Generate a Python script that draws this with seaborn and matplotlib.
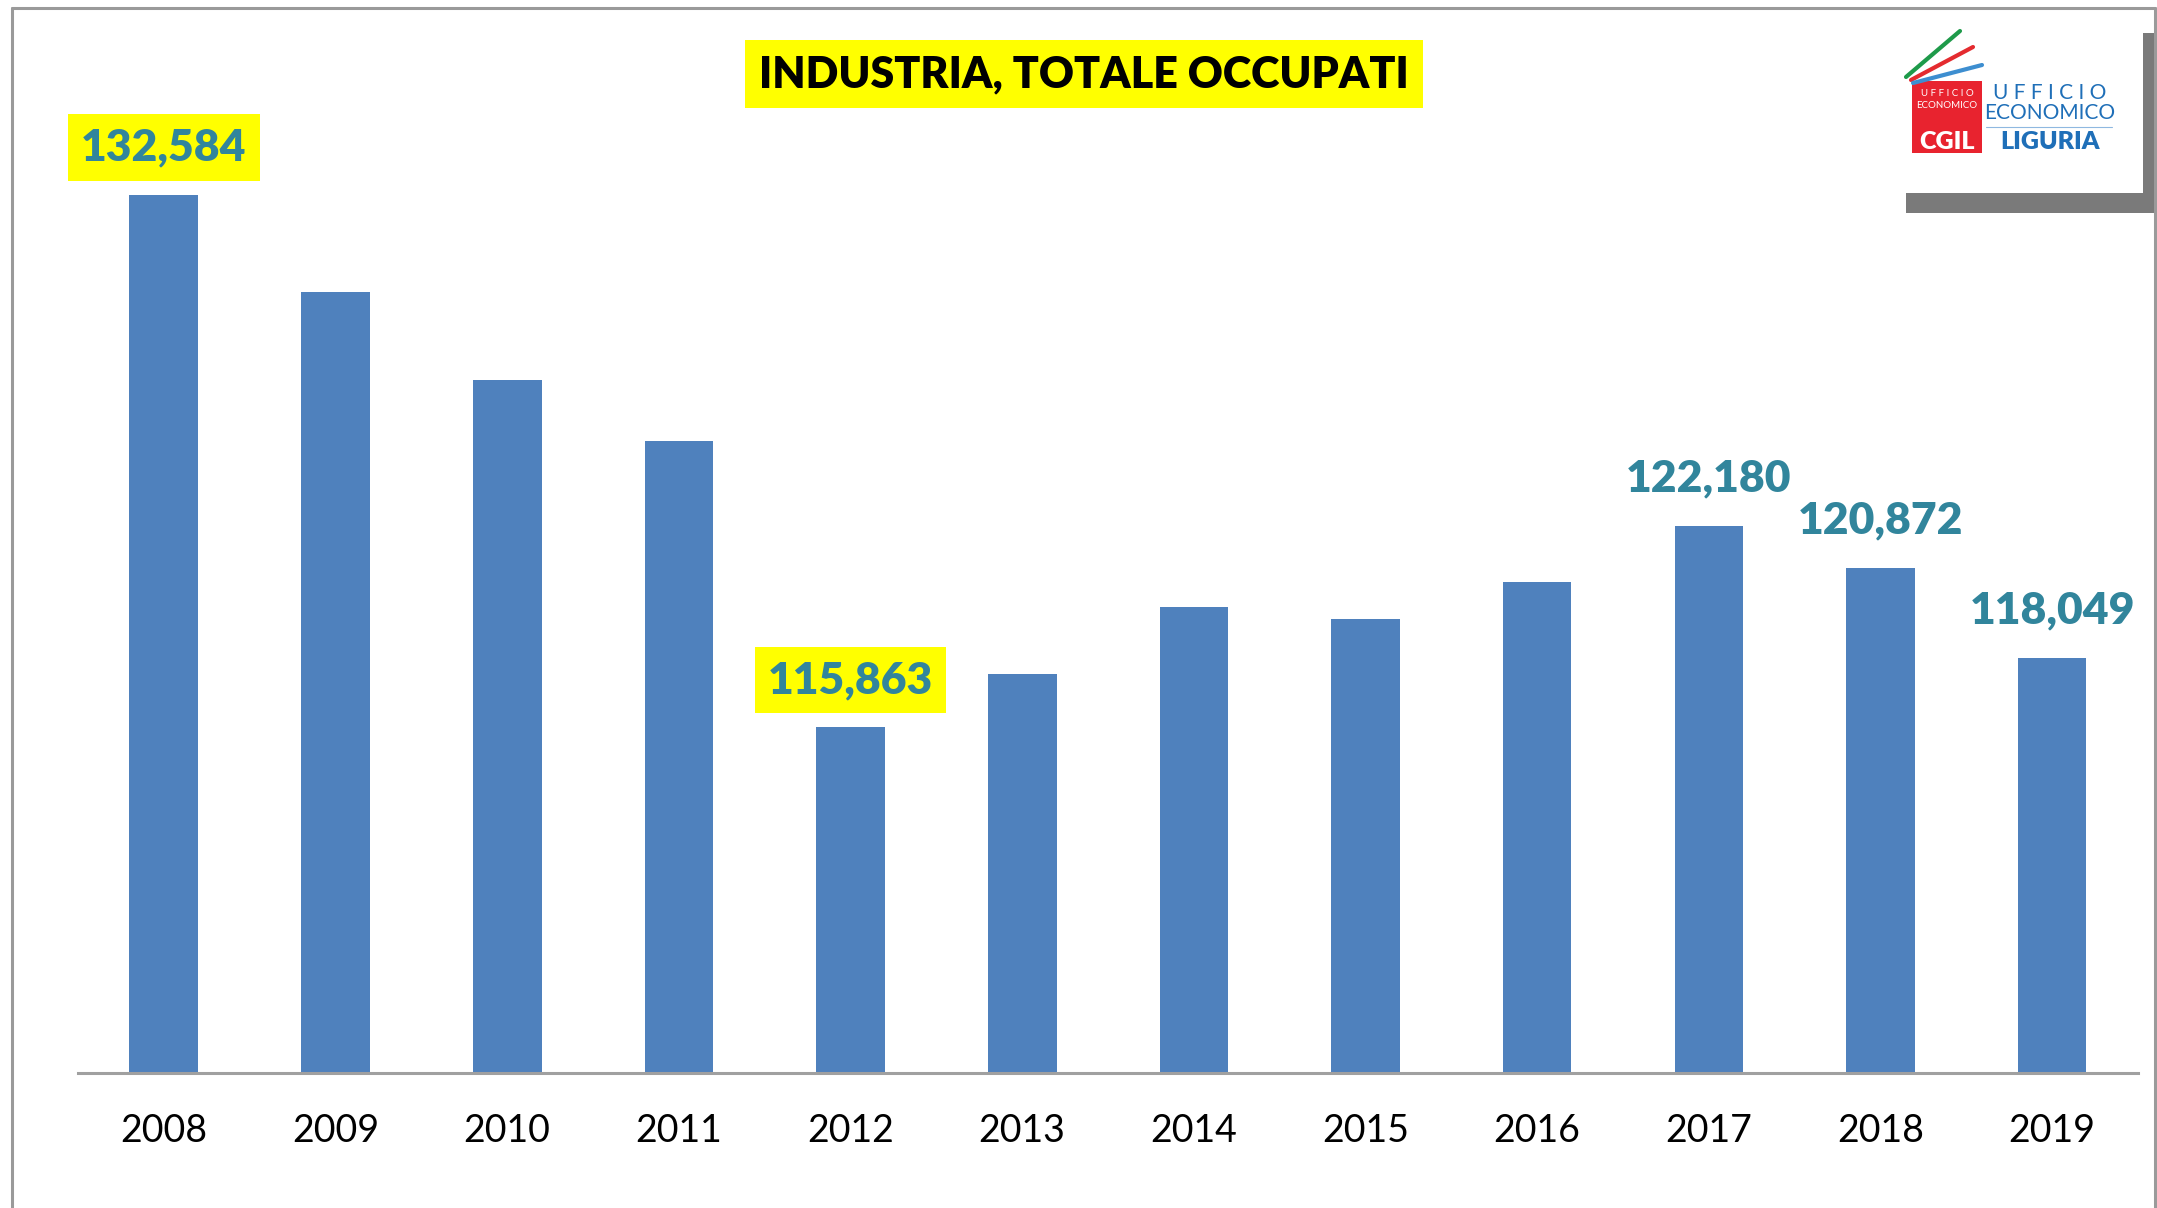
import matplotlib
matplotlib.use("Agg")
import matplotlib.pyplot as plt
import seaborn as sns
import pandas as pd
from matplotlib.patches import Rectangle
from matplotlib.lines import Line2D

# ---------------- data ----------------
years = ["2008", "2009", "2010", "2011", "2012", "2013",
         "2014", "2015", "2016", "2017", "2018", "2019"]
occupati = [132584, 129520, 126760, 124860, 115863, 117530,
            119645, 119260, 120420, 122180, 120872, 118049]
labelled_years = ["2008", "2012", "2017", "2018", "2019"]
highlighted_years = ["2008", "2012"]
title_text = "INDUSTRIA, TOTALE OCCUPATI"

df = pd.DataFrame({"anno": years, "occupati": occupati})

# ---------------- style ----------------
sns.set_theme(style="white")
plt.rcParams["font.family"] = ["Lato", "DejaVu Sans"]

W, H = 2157, 1208
fig = plt.figure(figsize=(W / 100, H / 100), dpi=100)
fig.patch.set_facecolor("white")

def fx(x):
    return x / W

def fy(y):
    return 1 - y / H

ax = fig.add_axes([fx(78), fy(1073), fx(2138) - fx(78), (1073 - 30) / H])

bar_color = "#4F81BD"
label_color = "#31859C"

sns.barplot(data=df, x="anno", y="occupati", color=bar_color, width=0.4,
            saturation=1, ax=ax, edgecolor=bar_color, linewidth=0)

ax.set_ylim(105000, 137760)
ax.set_xlim(-0.5, len(years) - 0.5)
ax.set_xlabel("")
ax.set_ylabel("")
ax.set_yticks([])
for s in ["left", "top", "right"]:
    ax.spines[s].set_visible(False)
ax.spines["bottom"].set_color("#A0A0A0")
ax.spines["bottom"].set_linewidth(2.2)
ax.tick_params(axis="x", length=0, pad=29, labelsize=27, labelcolor="black")
ax.set_facecolor("white")

# value labels
for i, (yr, v) in enumerate(zip(years, occupati)):
    if yr not in labelled_years:
        continue
    kw = {}
    if yr in highlighted_years:
        kw["bbox"] = dict(boxstyle="square,pad=0.3", facecolor="#FFFF00", edgecolor="none")
    ax.annotate(f"{v:,}", xy=(i, v), xytext=(0, 34), textcoords="offset points",
                ha="center", va="center", fontsize=32, fontweight="heavy",
                color=label_color, annotation_clip=False, **kw)

# title
fig.text(fx(1084), fy(74), title_text, ha="center", va="center",
         fontsize=31, fontweight="heavy", color="black",
         bbox=dict(boxstyle="square,pad=0.33", facecolor="#FFFF00", edgecolor="none"))

# outer frame
frame_col = "#9A9A9A"
fig.add_artist(Line2D([fx(12), fx(12)], [fy(8), 0], color=frame_col, lw=2.2, transform=fig.transFigure))
fig.add_artist(Line2D([fx(12), fx(2155)], [fy(8), fy(8)], color=frame_col, lw=2.2, transform=fig.transFigure))
fig.add_artist(Line2D([fx(2155), fx(2155)], [fy(8), 0], color=frame_col, lw=2.2, transform=fig.transFigure))

# logo: shadow
shadow = "#7A7A7A"
fig.add_artist(Rectangle((fx(1906), fy(213)), fx(2157) - fx(1906), (213 - 193) / H,
                         transform=fig.transFigure, facecolor=shadow, edgecolor="none"))
fig.add_artist(Rectangle((fx(2143), fy(213)), fx(2157) - fx(2143), (213 - 33) / H,
                         transform=fig.transFigure, facecolor=shadow, edgecolor="none"))
# logo: coloured strokes
for (x0, y0, x1, y1, c) in [(1906, 77, 1960, 31, "#1E9A4A"),
                            (1911, 80, 1973, 47, "#E42B2F"),
                            (1913, 83, 1982, 65, "#3D8ED0")]:
    fig.add_artist(Line2D([fx(x0), fx(x1)], [fy(y0), fy(y1)], color=c, lw=3,
                          solid_capstyle="round", transform=fig.transFigure))
# logo: red square
fig.add_artist(Rectangle((fx(1912), fy(153)), fx(1982) - fx(1912), (153 - 81) / H,
                         transform=fig.transFigure, facecolor="#E8232F", edgecolor="none"))
fig.text(fx(1947), fy(94), "U F F I C I O", ha="center", va="center", fontsize=7, color="white")
fig.text(fx(1947), fy(105), "ECONOMICO", ha="center", va="center", fontsize=7, color="white")
fig.text(fx(1947), fy(142), "CGIL", ha="center", va="center", fontsize=18, fontweight="heavy", color="white")
# logo: blue text
blue = "#1F6FB8"
fig.text(fx(2050), fy(93), "U F F I C I O", ha="center", va="center", fontsize=15, color=blue)
fig.text(fx(2050), fy(113), "ECONOMICO", ha="center", va="center", fontsize=15, color=blue)
fig.add_artist(Line2D([fx(1986), fx(2112)], [fy(127), fy(127)], color="#8FB8E0", lw=0.8,
                      transform=fig.transFigure))
fig.text(fx(2050), fy(142), "LIGURIA", ha="center", va="center", fontsize=18, fontweight="heavy", color=blue)

fig.savefig("out.png", dpi=100, facecolor="white")
